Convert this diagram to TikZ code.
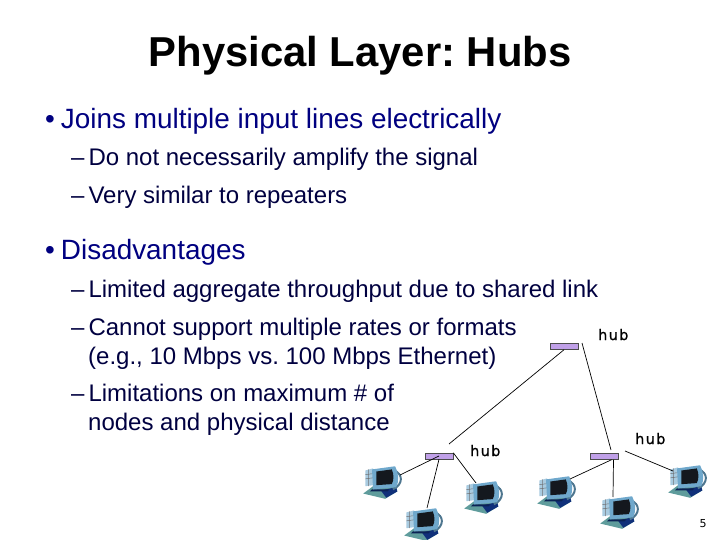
\documentclass[tikz,border=0pt]{standalone}
\usepackage{fontspec}
\setmainfont{Liberation Sans}
\newfontfamily\hubfont[LetterSpace=9,FakeBold=0.7]{DejaVu Sans}
\newfontfamily\pagefont{DejaVu Sans}
\usetikzlibrary{positioning}
\frenchspacing
\definecolor{mainblue}{HTML}{000080}
\definecolor{subblue}{HTML}{000040}
\definecolor{hubfill}{HTML}{C0A0E8}
\definecolor{pcbody}{HTML}{6FA8CC}
\definecolor{pcdark}{HTML}{14181E}
\definecolor{pcdesk}{HTML}{5F9C9C}
\definecolor{pcblue}{HTML}{10307A}
\tikzset{
  titletext/.style={anchor=base, font=\bfseries\fontsize{41.8}{42}\selectfont, text=black, inner sep=0},
  maintext/.style={anchor=base west, font=\fontsize{27.9}{30}\selectfont, text=mainblue, inner sep=0},
  subtext/.style={anchor=base west, font=\fontsize{24}{26}\selectfont, text=subblue, inner sep=0},
  hubbox/.style={draw=black!70, line width=.5pt, fill=hubfill, minimum width=28pt, minimum height=6pt, inner sep=0},
  hublabel/.style={anchor=base west, font=\hubfont\fontsize{14.5}{15}\selectfont, text=black, inner sep=0},
  pc/.style={inner sep=0},
  wire/.style={black, line width=.7pt}
}
\newsavebox\pcbox
\sbox\pcbox{\begin{tikzpicture}[x=1.1pt,y=-1.05pt]
  \useasboundingbox (-20,-16) rectangle (20,18);
  % tower
  \fill[pcbody!60!white] (-16,-10) -- (-9,-12) -- (-9,4) -- (-16,5) -- cycle;
  \draw[pcdark!60!white, line width=.5pt] (-16,-6) -- (-9,-7) (-16,-2) -- (-9,-3) (-13,-11) -- (-13,5);
  % desk and keyboard
  \fill[pcdesk] (-18,12) -- (-9,5) -- (12,5) -- (13,10) -- (2,17) -- cycle;
  \fill[pcblue] (-2,9) -- (12,6) -- (13,10) -- (3,16) -- cycle;
  \fill[pcblue!70!black] (-10,8) -- (6,8) -- (4,10) -- (-12,10) -- cycle;
  % arc behind the monitor
  \draw[pcbody!70!black, line width=2pt] (10,-10) .. controls (18,-7) and (19,3) .. (9,8);
  % monitor
  \fill[pcbody] (-10,-11) -- (11,-14) .. controls (14,-8) and (15,0) .. (12,6) -- (-9,8) -- cycle;
  \fill[pcdark] (-6,-9) -- (8,-11) .. controls (10,-6) and (10,-1) .. (8,3) -- (-6,4) -- cycle;
\end{tikzpicture}}
\begin{document}
\begin{tikzpicture}[x=1pt,y=-1pt]
  \useasboundingbox (0,0) rectangle (720,540);
  \node[titletext] (title) at (360,67) {Physical Layer: Hubs};
  \node[maintext] (joins) at (45,129) {•\hspace{6pt}Joins multiple input lines electrically};
  \node[subtext] (amplify) at (71,166) {–\hspace{4pt}Do not necessarily amplify the signal};
  \node[subtext] (repeat) at (71,204) {–\hspace{4pt}Very similar to repeaters};
  \node[maintext] (disadv) at (45,259) {•\hspace{6pt}Disadvantages};
  \node[subtext] (limited) at (71,297) {–\hspace{4pt}Limited aggregate throughput due to shared link};
  \node[subtext] (rates) at (71,335) {–\hspace{4pt}Cannot support multiple rates or formats};
  \node[subtext] (ether) at (88,364) {(e.g., 10 Mbps vs. 100 Mbps Ethernet)};
  \node[subtext] (maxnum) at (71,401) {–\hspace{4pt}Limitations on maximum \# of};
  \node[subtext] (dist) at (88,430) {nodes and physical distance};

  \node[hubbox] (hubT) at (564,346.5) {};
  \node[hubbox] (hubL) at (439,456) {};
  \node[hubbox] (hubR) at (604.5,456.5) {};
  \node[hublabel] (labT) at (598,340) {hub};
  \node[hublabel] (labL) at (470,456) {hub};
  \node[hublabel] (labR) at (635,444) {hub};

  \node[pc] (pcA) at (383,482) {\usebox\pcbox};
  \node[pc] (pcB) at (424,524) {\usebox\pcbox};
  \node[pc] (pcC) at (484,497) {\usebox\pcbox};
  \node[pc] (pcD) at (557,492) {\usebox\pcbox};
  \node[pc] (pcE) at (620,512) {\usebox\pcbox};
  \node[pc] (pcF) at (688,481) {\usebox\pcbox};

  \coordinate (endL) at (449,444);
  \coordinate (endR) at (611,450);
  \coordinate (startT) at (582,343);
  \coordinate (startR) at (625,451);
  \draw[wire] (hubT.south) -- (endL);
  \draw[wire] (startT) -- (endR);
  \draw[wire] (startR) -- ([shift={(-15,-10)}]pcF.center);
  \draw[wire] (hubL.center) -- ([shift={(17,-7)}]pcA.center);
  \draw[wire] (hubL.south) -- ([shift={(3,-16)}]pcB.center);
  \draw[wire] (hubL.north east) -- ([shift={(-8,-14)}]pcC.center);
  \draw[wire] ([xshift=7pt]hubR.south) -- ([shift={(13,-13)}]pcD.center);
  \draw[wire] ([xshift=9pt]hubR.south) -- ([shift={(-7,-15)}]pcE.center);

  \node[anchor=base, font=\pagefont\fontsize{11}{12}\selectfont, text=black, inner sep=0] (pagenum) at (703,527) {5};
\end{tikzpicture}
\end{document}
